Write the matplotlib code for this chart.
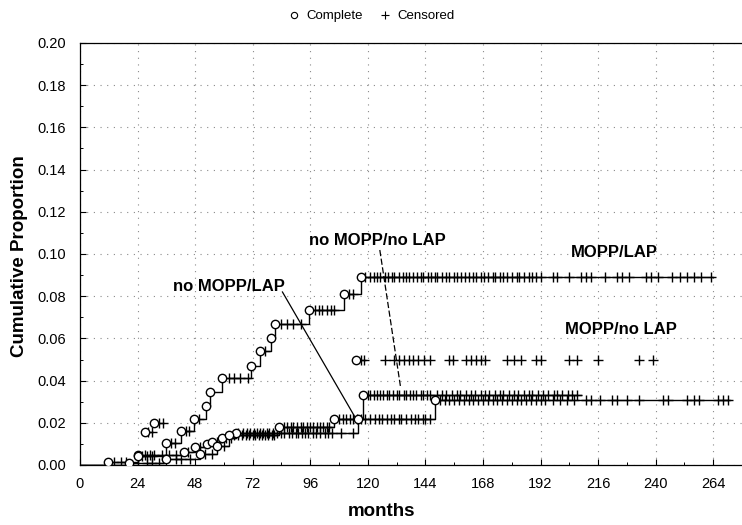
import numpy as np
import matplotlib
matplotlib.use("Agg")
import matplotlib.pyplot as plt
from matplotlib.lines import Line2D

plt.rcParams['font.family'] = ['Liberation Sans', 'DejaVu Sans']

# ---------------- data ----------------
x_ticks = [0, 24, 48, 72, 96, 120, 144, 168, 192, 216, 240, 264]
y_ticks = [0.00, 0.02, 0.04, 0.06, 0.08, 0.10, 0.12, 0.14, 0.16, 0.18, 0.20]

# MOPP/LAP
mopp_lap_event_t = [24, 36, 42, 47.5, 52.5, 54, 59, 71.5, 75, 79.5, 81.5, 95.5, 110, 117]
mopp_lap_event_y = [0.0045, 0.0105, 0.016, 0.022, 0.028, 0.0345, 0.041, 0.047, 0.054,
                    0.060, 0.067, 0.0735, 0.081, 0.089]
mopp_lap_censor_t = [26, 28, 30, 38, 39.5, 44, 45.5, 49.5, 62, 64, 66.5, 70, 77, 84, 86.5, 89,
                     92, 98, 99.5, 101, 103, 104.5, 106, 112, 114, 119, 121, 122.5, 124, 125,
                     127, 128.5, 130, 131, 133, 134.5, 136, 137, 139, 140.5, 142, 143, 145,
                     146.5, 148, 149, 151, 152.5, 154, 156, 157, 159, 160.5, 162, 164, 165,
                     167, 168.5, 170, 172, 173, 175, 176.5, 178, 180, 182, 183, 185, 187,
                     188.5, 190, 192, 197, 199, 204, 209, 211, 213, 219, 224, 226, 229, 236,
                     238, 241, 247, 250, 253, 256, 259, 263]
mopp_lap_end = 264

# MOPP/no LAP (marks only)
mopp_nolap_event_t = [27, 31, 115]
mopp_nolap_event_y = [0.0155, 0.020, 0.050]
mopp_nolap_censor_t = [28.5, 30, 33, 34.5, 117, 118.5, 127, 131, 133, 135, 137, 139, 141,
                       143.5, 146, 154, 155.5, 161, 163, 165, 167, 169, 178, 181, 184, 190,
                       192, 204, 207, 216, 233, 239]

# no MOPP/no LAP
nomopp_nolap_event_t = [20.5, 36, 50, 57, 62, 83, 106, 118]
nomopp_nolap_event_y = [0.0010, 0.0030, 0.0050, 0.0090, 0.0140, 0.0180, 0.0218, 0.0332]
nomopp_nolap_censor_t = [28, 30, 33, 40, 42, 46, 52, 55, 60, 64, 66, 67.5, 69, 70.5, 72, 73,
                         74.5, 76, 77, 78.5, 80, 81, 85, 86.5, 88, 89, 90.5, 92, 93, 94.5, 96,
                         97, 99, 100, 101.5, 103, 104, 108, 109.5, 111, 112.5, 114, 115.5,
                         117, 120, 121, 122.5, 124, 125, 126.5, 128, 129, 130.5, 132, 133,
                         135, 136, 137.5, 139, 140, 142, 143, 144.5, 146, 149, 151, 152.5,
                         155, 157, 158.5, 161, 163, 164.5, 167, 169, 170.5, 173, 175, 176.5,
                         179, 181, 182.5, 185, 187, 188.5, 191, 193, 195, 197.5, 199, 201,
                         203.5, 205, 207]
nomopp_nolap_end = 209

# no MOPP/LAP
nomopp_lap_event_t = [11.5, 24, 43.5, 48, 53, 55, 59, 65, 116, 148]
nomopp_lap_event_y = [0.0014, 0.0047, 0.0062, 0.0085, 0.0100, 0.0110, 0.0128, 0.0150,
                      0.0218, 0.0310]
nomopp_lap_censor_t = [14, 17, 19, 27, 29, 31, 34, 37, 40, 45, 50, 57, 61, 63, 66, 68, 69.5,
                       71, 72.5, 74, 75, 76.5, 78, 79, 80.5, 82, 84, 85, 87, 88.5, 90, 91,
                       92.5, 94, 95, 97, 98.5, 100, 102, 103.5, 105, 109, 114, 119, 121, 123,
                       124.5, 126, 128, 129.5, 131, 133, 134, 136, 138, 139.5, 141, 143, 144,
                       146, 150, 152, 154, 156, 158, 160, 162, 164, 166, 168, 170, 172, 174,
                       176, 178, 180, 182, 184, 186, 188, 190, 192, 194, 197, 200, 203, 206,
                       211, 213, 217, 222, 224, 228, 233, 243, 245, 253, 256, 258, 266, 268,
                       270]
nomopp_lap_end = 271

# ---------------- figure ----------------
fig = plt.figure(figsize=(7.42, 5.25), dpi=100)
ax = fig.add_axes([80 / 742, 60 / 525, 662 / 742, 422 / 525])
ax.set_xlim(0, 274)
ax.set_ylim(0, 0.20)

ms_c = 6.0
ms_p = 7.5


def step_val(t, ev_t, ev_y):
    ev_t = np.asarray(ev_t)
    ev_y = np.asarray(ev_y)
    idx = np.searchsorted(ev_t, np.asarray(t), side='right') - 1
    return np.where(idx >= 0, ev_y[np.clip(idx, 0, None)], 0.0)


def draw_curve(ev_t, ev_y, cen_t, end, line=True):
    if line:
        xs = [0] + list(ev_t) + [end]
        ys = [0] + list(ev_y) + [ev_y[-1]]
        ax.step(xs, ys, where='post', color='black', lw=1.0, zorder=3)
    cy = step_val(cen_t, ev_t, ev_y)
    ax.plot(cen_t, cy, ls='none', marker='+', ms=ms_p, mew=1.0, color='black', zorder=4)
    ax.plot(ev_t, ev_y, ls='none', marker='o', ms=ms_c, mfc='white', mec='black',
            mew=1.0, zorder=5)


draw_curve(nomopp_lap_event_t, nomopp_lap_event_y, nomopp_lap_censor_t, nomopp_lap_end)
draw_curve(nomopp_nolap_event_t, nomopp_nolap_event_y, nomopp_nolap_censor_t, nomopp_nolap_end)
draw_curve(mopp_nolap_event_t, mopp_nolap_event_y, mopp_nolap_censor_t, None, line=False)
draw_curve(mopp_lap_event_t, mopp_lap_event_y, mopp_lap_censor_t, mopp_lap_end)

# grid & ticks
ax.set_xticks(x_ticks)
ax.set_yticks(y_ticks)
ax.set_xticklabels([str(v) for v in x_ticks])
ax.set_yticklabels([f"{v:.2f}" for v in y_ticks])
ax.set_xticks([v + 12 for v in x_ticks], minor=True)
ax.set_yticks([v + 0.01 for v in y_ticks[:-1]], minor=True)
ax.grid(True, which='major', color='#8a8a8a', ls=(0, (1, 5)), lw=0.8, zorder=0)
ax.tick_params(which='major', direction='in', length=4, width=0.8, labelsize=10.5)
ax.tick_params(axis='x', which='major', pad=9)
ax.tick_params(axis='y', which='major', pad=10)
ax.tick_params(which='minor', direction='in', length=2, width=0.7)
ax.spines['right'].set_visible(False)
for s in ['left', 'bottom', 'top']:
    ax.spines[s].set_linewidth(0.9)

ax.set_xlabel('months', fontsize=13.5, fontweight='bold')
ax.set_ylabel('Cumulative Proportion', fontsize=13.5, fontweight='bold')
ax.xaxis.set_label_coords(0.455, -(512 - 465) / 422, transform=ax.transAxes)
ax.yaxis.set_label_coords(-(80 - 20) / 662, (465 - 256) / 422, transform=ax.transAxes)
ax.xaxis.label.set_va('center')
ax.yaxis.label.set_va('center')

# annotations
ax.text(62, 0.0844, 'no MOPP/LAP', fontsize=12, fontweight='bold', ha='center', va='center')
ax.text(124, 0.1062, 'no MOPP/no LAP', fontsize=12, fontweight='bold', ha='center', va='center')
ax.text(222.6, 0.1005, 'MOPP/LAP', fontsize=12, fontweight='bold', ha='center', va='center')
ax.text(225.5, 0.064, 'MOPP/no LAP', fontsize=12, fontweight='bold', ha='center', va='center')
ax.plot([84.4, 114.6], [0.0820, 0.0228], color='black', lw=0.9, zorder=6)
ax.plot([125, 133.7], [0.1019, 0.0365], color='black', lw=0.9, ls=(0, (5, 2)), zorder=6)

# legend
handles = [Line2D([], [], ls='none', marker='o', ms=4.5, mfc='white', mec='black', mew=0.8),
           Line2D([], [], ls='none', marker='+', ms=6, mew=0.8, color='black')]
fig.legend(handles, ['Complete', 'Censored'], loc='center', bbox_to_anchor=(0.5, 1 - 16 / 525),
           ncol=2, frameon=False, fontsize=9.5, handletextpad=0.4, columnspacing=1.2,
           handlelength=1.0)

fig.savefig('out.png', dpi=100)
